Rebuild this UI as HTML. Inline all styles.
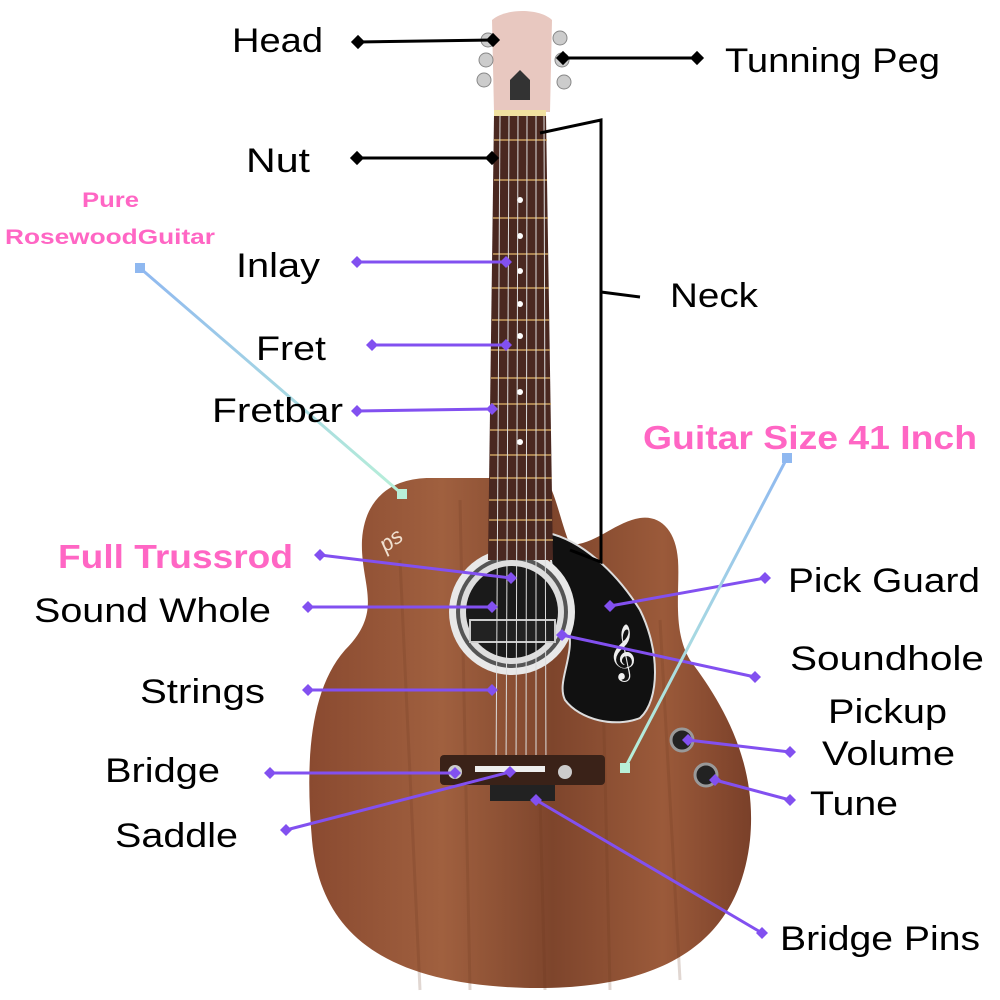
<!DOCTYPE html>
<html><head><meta charset="utf-8"><style>
html,body{margin:0;padding:0;background:#fff;}
svg{display:block}
text{font-family:"Liberation Sans",sans-serif;}
</style></head><body>
<svg width="1000" height="1000" viewBox="0 0 1000 1000">
<defs>
<linearGradient id="body" x1="0" y1="0" x2="1" y2="0">
<stop offset="0" stop-color="#8a4a30"/><stop offset="0.3" stop-color="#a0603f"/><stop offset="0.55" stop-color="#7e452c"/><stop offset="0.8" stop-color="#9b5a3a"/><stop offset="1" stop-color="#7a4029"/>
</linearGradient>
<linearGradient id="lb" x1="0" y1="0" x2="1" y2="1"><stop offset="0" stop-color="#8fb8f0"/><stop offset="1" stop-color="#b8f0d8"/></linearGradient>
<linearGradient id="lb2" x1="1" y1="0" x2="0" y2="1"><stop offset="0" stop-color="#8fb8f0"/><stop offset="1" stop-color="#b8f0d8"/></linearGradient>
</defs>
<path d="M430 478 C395 478 365 495 362 540 C360 585 385 610 345 650 C310 690 305 760 312 840 C320 930 380 985 530 988 C680 990 740 930 750 840 C758 760 720 700 690 660 C672 630 680 590 678 560 C676 530 660 515 640 518 C615 522 595 545 570 545 C560 520 555 490 545 478 Z" fill="url(#body)"/>
<path d="M400 560 L420 990 M460 500 L470 990 M600 560 L610 990 M660 620 L680 980 M540 800 L545 990" stroke="#6a3520" stroke-width="3" opacity="0.2" fill="none"/>
<path d="M548 533 C580 540 615 570 640 610 C660 650 660 700 640 718 C615 728 580 720 565 700 C555 680 580 650 565 620 C555 590 550 560 548 533 Z" fill="#111" stroke="#ddd" stroke-width="2"/>
<text x="608" y="668" fill="#eee" font-size="48">𝄞</text>
<circle cx="512" cy="612" r="63" fill="#e8e8e8"/>
<circle cx="512" cy="612" r="56" fill="#555"/>
<circle cx="512" cy="612" r="52" fill="#ddd"/>
<circle cx="512" cy="612" r="46" fill="#1a1a1a"/>
<rect x="470" y="620" width="85" height="22" fill="#222" stroke="#ccc" stroke-width="2"/>
<path d="M494 115 L546 115 L553 560 L488 560 Z" fill="#4a2820"/>
<g stroke="#c9a060" stroke-width="1.5">
<line x1="494" y1="140" x2="547" y2="140"/><line x1="494" y1="180" x2="547" y2="180"/><line x1="493" y1="218" x2="548" y2="218"/><line x1="493" y1="254" x2="548" y2="254"/><line x1="492" y1="288" x2="549" y2="288"/><line x1="492" y1="320" x2="549" y2="320"/><line x1="491" y1="350" x2="550" y2="350"/><line x1="491" y1="378" x2="550" y2="378"/><line x1="491" y1="404" x2="551" y2="404"/><line x1="490" y1="430" x2="551" y2="430"/><line x1="490" y1="455" x2="551" y2="455"/><line x1="490" y1="478" x2="552" y2="478"/><line x1="489" y1="500" x2="552" y2="500"/><line x1="489" y1="520" x2="552" y2="520"/><line x1="489" y1="540" x2="553" y2="540"/>
</g>
<g fill="#fff"><circle cx="520" cy="200" r="3"/><circle cx="520" cy="236" r="3"/><circle cx="520" cy="271" r="3"/><circle cx="520" cy="304" r="3"/><circle cx="520" cy="336" r="3"/><circle cx="520" cy="392" r="3"/><circle cx="520" cy="442" r="3"/></g>
<g stroke="#ddd" stroke-width="1"><line x1="500" y1="115" x2="496" y2="775"/><line x1="509" y1="115" x2="506" y2="775"/><line x1="518" y1="115" x2="516" y2="775"/><line x1="527" y1="115" x2="526" y2="775"/><line x1="536" y1="115" x2="536" y2="775"/><line x1="544" y1="115" x2="546" y2="775"/></g>
<path d="M492 20 C505 8 540 8 552 20 L550 112 L494 112 Z" fill="#e8c8c0"/>
<rect x="494" y="110" width="52" height="6" fill="#f0e0a0"/>
<path d="M510 80 L520 70 L530 80 L530 100 L510 100 Z" fill="#333"/>
<g fill="#ccc" stroke="#888"><circle cx="488" cy="40" r="7"/><circle cx="486" cy="60" r="7"/><circle cx="484" cy="80" r="7"/><circle cx="560" cy="38" r="7"/><circle cx="562" cy="60" r="7"/><circle cx="564" cy="82" r="7"/></g>
<rect x="440" y="755" width="165" height="30" rx="4" fill="#3a2218"/>
<rect x="475" y="766" width="70" height="6" fill="#eee"/>
<circle cx="455" cy="772" r="7" fill="#ccc"/><circle cx="565" cy="772" r="7" fill="#ccc"/>
<rect x="490" y="785" width="65" height="16" fill="#222"/>
<circle cx="682" cy="740" r="11" fill="#222" stroke="#999" stroke-width="3"/>
<circle cx="706" cy="775" r="11" fill="#222" stroke="#999" stroke-width="3"/>
<text x="380" y="545" fill="#f0e0d0" font-size="22" font-style="italic" transform="rotate(-35 395 540)">ps</text>

<g stroke="#000" stroke-width="3" fill="none">
<line x1="358" y1="42" x2="493" y2="40"/><line x1="563" y1="58" x2="697" y2="58"/><line x1="357" y1="158" x2="492" y2="158"/>
<polyline points="540,133 601,120 601,562 570,550"/><line x1="601" y1="292" x2="640" y2="297"/>
</g>
<g fill="#000"><rect x="353" y="37" width="10" height="10" transform="rotate(45 358 42)"/><rect x="488" y="35" width="10" height="10" transform="rotate(45 493 40)"/><rect x="558" y="53" width="10" height="10" transform="rotate(45 563 58)"/><rect x="692" y="53" width="10" height="10" transform="rotate(45 697 58)"/><rect x="352" y="153" width="10" height="10" transform="rotate(45 357 158)"/><rect x="487" y="153" width="10" height="10" transform="rotate(45 492 158)"/></g>
<g stroke="#8250f0" stroke-width="3">
<line x1="357" y1="262" x2="506" y2="262"/><line x1="372" y1="345" x2="506" y2="345"/><line x1="357" y1="411" x2="492" y2="409"/><line x1="320" y1="555" x2="511" y2="578"/><line x1="308" y1="607" x2="492" y2="607"/><line x1="562" y1="635" x2="755" y2="677"/><line x1="610" y1="606" x2="765" y2="578"/><line x1="308" y1="690" x2="492" y2="690"/><line x1="270" y1="773" x2="455" y2="773"/><line x1="286" y1="830" x2="510" y2="772"/><line x1="536" y1="800" x2="762" y2="933"/><line x1="688" y1="740" x2="790" y2="752"/><line x1="715" y1="780" x2="790" y2="800"/>
</g>
<g fill="#8250f0">
<path d="M0 -6 L6 0 L0 6 L-6 0Z" transform="translate(357 262)"/>
<path d="M0 -6 L6 0 L0 6 L-6 0Z" transform="translate(506 262)"/><path d="M0 -6 L6 0 L0 6 L-6 0Z" transform="translate(372 345)"/><path d="M0 -6 L6 0 L0 6 L-6 0Z" transform="translate(506 345)"/><path d="M0 -6 L6 0 L0 6 L-6 0Z" transform="translate(357 411)"/><path d="M0 -6 L6 0 L0 6 L-6 0Z" transform="translate(492 409)"/><path d="M0 -6 L6 0 L0 6 L-6 0Z" transform="translate(320 555)"/><path d="M0 -6 L6 0 L0 6 L-6 0Z" transform="translate(511 578)"/><path d="M0 -6 L6 0 L0 6 L-6 0Z" transform="translate(308 607)"/><path d="M0 -6 L6 0 L0 6 L-6 0Z" transform="translate(492 607)"/><path d="M0 -6 L6 0 L0 6 L-6 0Z" transform="translate(562 635)"/><path d="M0 -6 L6 0 L0 6 L-6 0Z" transform="translate(755 677)"/><path d="M0 -6 L6 0 L0 6 L-6 0Z" transform="translate(610 606)"/><path d="M0 -6 L6 0 L0 6 L-6 0Z" transform="translate(765 578)"/><path d="M0 -6 L6 0 L0 6 L-6 0Z" transform="translate(308 690)"/><path d="M0 -6 L6 0 L0 6 L-6 0Z" transform="translate(492 690)"/><path d="M0 -6 L6 0 L0 6 L-6 0Z" transform="translate(270 773)"/><path d="M0 -6 L6 0 L0 6 L-6 0Z" transform="translate(455 773)"/><path d="M0 -6 L6 0 L0 6 L-6 0Z" transform="translate(286 830)"/><path d="M0 -6 L6 0 L0 6 L-6 0Z" transform="translate(510 772)"/><path d="M0 -6 L6 0 L0 6 L-6 0Z" transform="translate(536 800)"/><path d="M0 -6 L6 0 L0 6 L-6 0Z" transform="translate(762 933)"/><path d="M0 -6 L6 0 L0 6 L-6 0Z" transform="translate(688 740)"/><path d="M0 -6 L6 0 L0 6 L-6 0Z" transform="translate(790 752)"/><path d="M0 -6 L6 0 L0 6 L-6 0Z" transform="translate(715 780)"/><path d="M0 -6 L6 0 L0 6 L-6 0Z" transform="translate(790 800)"/>
</g>
<line x1="140" y1="268" x2="402" y2="494" stroke="url(#lb)" stroke-width="3"/>
<rect x="135" y="263" width="10" height="10" fill="#8fb8f0"/><rect x="397" y="489" width="10" height="10" fill="#b8f0d8"/>
<line x1="787" y1="458" x2="625" y2="768" stroke="url(#lb2)" stroke-width="3"/>
<rect x="782" y="453" width="10" height="10" fill="#8fb8f0"/><rect x="620" y="763" width="10" height="10" fill="#b8f0d8"/>
<g font-size="34" fill="#000" lengthAdjust="spacingAndGlyphs">
<text x="232" y="52" textLength="91" lengthAdjust="spacingAndGlyphs">Head</text>
<text x="725" y="72" textLength="215" lengthAdjust="spacingAndGlyphs">Tunning Peg</text>
<text x="246" y="172" textLength="64" lengthAdjust="spacingAndGlyphs">Nut</text>
<text x="236" y="277" textLength="84" lengthAdjust="spacingAndGlyphs">Inlay</text>
<text x="670" y="307" textLength="88" lengthAdjust="spacingAndGlyphs">Neck</text>
<text x="256" y="360" textLength="70" lengthAdjust="spacingAndGlyphs">Fret</text>
<text x="212" y="422" textLength="131" lengthAdjust="spacingAndGlyphs">Fretbar</text>
<text x="34" y="622" textLength="237" lengthAdjust="spacingAndGlyphs">Sound Whole</text>
<text x="788" y="592" textLength="192" lengthAdjust="spacingAndGlyphs">Pick Guard</text>
<text x="790" y="670" textLength="194" lengthAdjust="spacingAndGlyphs">Soundhole</text>
<text x="140" y="703" textLength="125" lengthAdjust="spacingAndGlyphs">Strings</text>
<text x="828" y="723" textLength="119" lengthAdjust="spacingAndGlyphs">Pickup</text>
<text x="822" y="765" textLength="133" lengthAdjust="spacingAndGlyphs">Volume</text>
<text x="105" y="782" textLength="115" lengthAdjust="spacingAndGlyphs">Bridge</text>
<text x="810" y="815" textLength="88" lengthAdjust="spacingAndGlyphs">Tune</text>
<text x="115" y="847" textLength="123" lengthAdjust="spacingAndGlyphs">Saddle</text>
<text x="780" y="950" textLength="200" lengthAdjust="spacingAndGlyphs">Bridge Pins</text>
</g>
<g fill="#ff66c4" font-weight="bold">
<text x="58" y="568" font-size="33" textLength="235" lengthAdjust="spacingAndGlyphs">Full Trussrod</text>
<text x="643" y="449" font-size="33" textLength="334" lengthAdjust="spacingAndGlyphs">Guitar Size 41 Inch</text>
<text x="82" y="207" font-size="21" textLength="57" lengthAdjust="spacingAndGlyphs">Pure</text>
<text x="5" y="244" font-size="21" textLength="210" lengthAdjust="spacingAndGlyphs">RosewoodGuitar</text>
</g>
</svg>
</body></html>
